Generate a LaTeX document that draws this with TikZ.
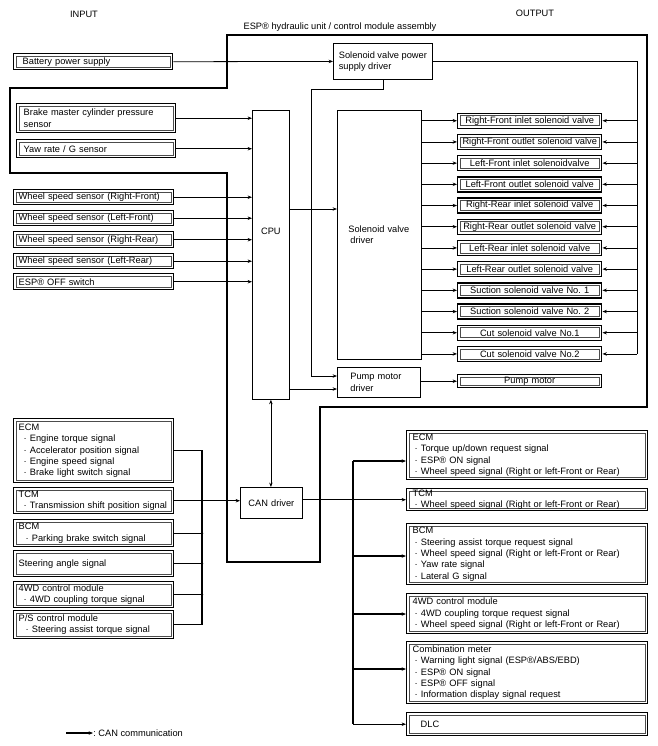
\documentclass[tikz,border=0pt]{standalone}
\usepackage{fontspec}
\setmainfont{Liberation Sans}
\usetikzlibrary{arrows.meta}
\newlength{\pxu}\setlength{\pxu}{0.75pt}
\newcommand{\bult}[1][5]{\hspace*{#1\pxu}·\ }
\frenchspacing
\hyphenpenalty=10000
\exhyphenpenalty=10000
\begin{document}
\begin{tikzpicture}[x=0.75pt,y=-0.75pt,
  font=\fontsize{6.95}{8.5}\selectfont,
  sz/.style n args={3}{anchor=north west, minimum width=#1*0.75pt, minimum height=#2*0.75pt,
     text width=(#1-2*#3)*0.75pt, inner xsep=#3*0.75pt, inner ysep=0pt},
  szc/.style 2 args={anchor=north west, minimum width=#1*0.75pt, minimum height=#2*0.75pt, inner sep=0pt},
  sbox/.style={draw, line width=0.6pt, align=left},
  dbox/.style={draw, line width=1.1pt, align=left,
     path picture={\draw[line width=0.45pt, black!70]
        ([shift={(1.9pt,-1.9pt)}]path picture bounding box.north west) rectangle
        ([shift={(-1.9pt,1.9pt)}]path picture bounding box.south east);}},
  conn/.style={line width=0.6pt},
  can/.style={line width=1.1pt},
  arr/.style={-{Stealth[length=3.3pt,width=2.6pt]}},
  darr/.style={{Stealth[length=3.3pt,width=2.6pt]}-{Stealth[length=3.3pt,width=2.6pt]}},
  ttl/.style={inner sep=0pt}
]
\useasboundingbox (0,0) rectangle (657,746);

% titles
\node[ttl] (tin) at (84,14) {INPUT};
\node[ttl] (tout) at (535,13) {OUTPUT};
\node[ttl] (tesp) at (340,27) {ESP® hydraulic unit / control module assembly};

% ESP unit outline
\draw[line width=1.5pt] (227,35) -- (647,35) -- (647,407) -- (320,407) -- (320,562)
  -- (227,562) -- (227,173) -- (10,173) -- (10,88) -- (227,88) -- cycle;

% input boxes
\node[dbox, sz={159}{16}{9}] (bat) at (13,53) {Battery power supply};
\node[dbox, sz={159}{29}{7}] (brake) at (16,103) {Brake master cylinder pressure\\sensor};
\node[dbox, sz={159}{18}{7}] (yaw) at (16,139) {Yaw rate / G sensor};
\node[dbox, sz={160}{15}{5}] (wsrf) at (13,189) {Wheel speed sensor (Right-Front)};
\node[dbox, sz={160}{15}{5}] (wslf) at (13,210) {Wheel speed sensor (Left-Front)};
\node[dbox, sz={160}{16}{5}] (wsrr) at (13,231) {Wheel speed sensor (Right-Rear)};
\node[dbox, sz={160}{15}{5}] (wslr) at (13,253) {Wheel speed sensor (Left-Rear)};
\node[dbox, sz={160}{16}{5}] (espoff) at (13,273) {ESP® OFF switch};

% internal blocks
\node[sbox, szc={99}{36}] (spd) at (333,43) {Solenoid valve power\\supply driver};
\node[sbox, sz={37}{289}{2}, align=center] (cpu) at (252,110) {\raisebox{20\pxu}[0pt][0pt]{CPU}};
\node[sbox, sz={84}{249}{11}] (svd) at (337,110) {Solenoid valve\\\hspace*{2\pxu}driver};
\node[sbox, sz={83}{30}{13}] (pmd) at (337,367) {Pump motor\\driver};
\node[sbox, sz={62}{31}{3}, align=center] (can) at (240,487) {CAN driver};

% valves
\foreach \i/\t in {1/Right-Front inlet solenoid valve, 2/Right-Front outlet solenoid valve,
  3/Left-Front inlet solenoidvalve, 4/Left-Front outlet solenoid valve,
  5/Right-Rear inlet solenoid valve, 6/Right-Rear outlet solenoid valve,
  7/Left-Rear inlet solenoid valve, 8/Left-Rear outlet solenoid valve,
  9/Suction solenoid valve No. 1, 10/Suction solenoid valve No. 2,
  11/Cut solenoid valve No.1, 12/Cut solenoid valve No.2}{
  \node[dbox, sz={144}{15}{3}, align=center] (v\i) at (457,{112.5+21.2*(\i-1)}) {\t};
}
\node[dbox, sz={144}{13}{3}, align=center] (pump) at (457,374) {Pump motor};

% bottom-left modules
\node[dbox, sz={160}{64}{5}] (ecmL) at (13,418) {ECM\\\bult Engine torque signal\\\bult Accelerator position signal\\\bult Engine speed signal\\\bult Brake light switch signal};
\node[dbox, sz={160}{26}{4}] (tcmL) at (13,487) {\hspace*{1\pxu}TCM\\\bult[6]Transmission shift position signal};
\node[dbox, sz={160}{27}{5}] (bcmL) at (13,519) {BCM\\\bult[7]Parking brake switch signal};
\node[dbox, sz={160}{26}{5}] (steerL) at (13,550) {Steering angle signal};
\node[dbox, sz={160}{26}{5}] (wdL) at (13,581) {4WD control module\\\bult[5]4WD coupling torque signal};
\node[dbox, sz={160}{28}{5}] (psL) at (13,610) {P/S control module\\\bult[7]Steering assist torque signal};

% bottom-right modules
\node[dbox, sz={241}{49}{6}] (ecmR) at (406,430) {ECM\\\bult[2]Torque up/down request signal\\\bult[2]ESP® ON signal\\\bult[2]Wheel speed signal (Right or left-Front or Rear)};
\node[dbox, sz={241}{22}{6}] (tcmR) at (406,488) {TCM\\\bult[2]Wheel speed signal (Right or left-Front or Rear)};
\node[dbox, sz={241}{61}{6}] (bcmR) at (406,523) {BCM\\\bult[2]Steering assist torque request signal\\\bult[2]Wheel speed signal (Right or left-Front or Rear)\\\bult[2]Yaw rate signal\\\bult[2]Lateral G signal};
\node[dbox, sz={241}{40}{6}] (wdR) at (406,593) {4WD control module\\\bult[2]4WD coupling torque request signal\\\bult[2]Wheel speed signal (Right or left-Front or Rear)};
\node[dbox, sz={241}{62}{6}] (combR) at (406,641) {Combination meter\\\bult[2]Warning light signal (ESP®/ABS/EBD)\\\bult[2]ESP® ON signal\\\bult[2]ESP® OFF signal\\\bult[2]Information display signal request};
\node[dbox, sz={241}{23}{14}] (dlc) at (406,712) {DLC};

% --- connectors ---
\draw[conn,arr] (bat.east) -- (spd.west);
\foreach \n in {brake,yaw,wsrf,wslf,wsrr,wslr,espoff}{
  \draw[conn,arr] (\n.east) -- (\n.east -| cpu.west);
}
\draw[conn,arr] (cpu.east |- 0,209) -- (svd.west |- 0,209);
\draw[conn,arr] (cpu.east |- 0,389) -- (pmd.west |- 0,389);
\draw[conn,arr] (spd.south) -- (spd.south |- 0,89) -- (311,89) -- (311,376) -- (pmd.west |- 0,376);
\draw[conn,arr] (pmd.east |- pump.west) -- (pump.west);
\coordinate (pr) at (637,61);
\draw[conn] (spd.east |- pr) -- (pr) -- (pr |- v12.east);
\foreach \i in {1,...,12}{
  \draw[conn,arr] (svd.east |- v\i.west) -- (v\i.west);
  \draw[conn,arr] (pr |- v\i.east) -- (v\i.east);
}
\draw[conn,darr] (cpu.south) -- (cpu.south |- can.north);

% CAN bus left
\coordinate (lb) at (202,0);
\draw[can] (ecmL.east) -- (lb |- ecmL.east) -- (lb |- psL.east) -- (psL.east);
\foreach \n in {tcmL,bcmL,steerL,wdL}{
  \draw[can] (\n.east) -- (lb |- \n.east);
  \fill (lb |- \n.east) circle (1.1pt);
}
\draw[can,arr] (lb |- tcmL.east) -- (can.west |- tcmL.east);

% CAN bus right
\coordinate (rb) at (353,0);
\draw[can,arr] (can.east |- tcmR.west) -- (tcmR.west);
\draw[can] (rb |- 0,461) -- (rb |- dlc.west);
\fill (rb |- tcmR.west) circle (1.1pt);
\draw[can,arr] (rb |- 0,461) -- (ecmR.west |- 0,461);
\draw[can,arr] (rb |- 0,556) -- (bcmR.west |- 0,556);
\draw[can,arr] (rb |- 0,614) -- (wdR.west |- 0,614);
\draw[can,arr] (rb |- 0,669) -- (combR.west |- 0,669);
\draw[can,arr] (rb |- dlc.west) -- (dlc.west);

% legend
\coordinate (lg) at (66,733);
\node[ttl, anchor=west] (lgt) at (93,733) {: CAN communication};
\draw[can,arr] (lg) -- (lgt.west);
\end{tikzpicture}
\end{document}
